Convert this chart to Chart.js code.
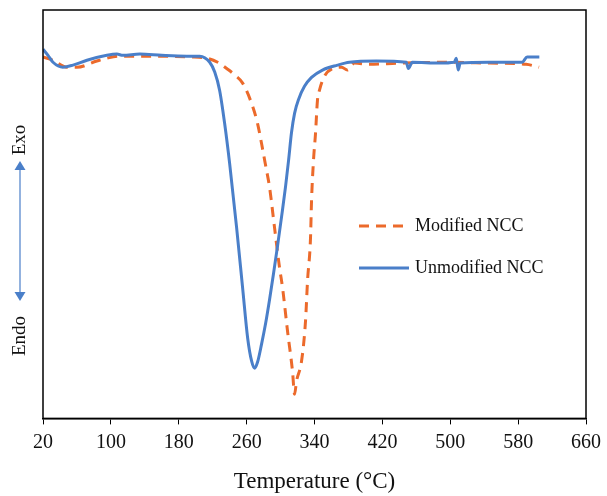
<!DOCTYPE html>
<html>
<head>
<meta charset="utf-8">
<script src="https://cdn.jsdelivr.net/npm/chart.js@4/dist/chart.umd.min.js"></script>
<style>
  html, body { margin: 0; padding: 0; background: #fff; }
  #wrap { width: 607px; height: 496px; }
</style>
</head>
<body>
<div id="wrap"><canvas id="dsc"></canvas></div>
<script>
// DSC thermograms, heat flow in arbitrary units
const xTicks = [20, 100, 180, 260, 340, 420, 500, 580, 660];

const unmodTemp = [20, 25.9, 31.8, 43.5, 55.3, 71.8, 95.3, 107.1, 114.1, 134.1, 160, 189.4, 204.7,
  216.5, 222.4, 228.2, 234.1, 240.0, 248.2, 255.3, 261.2, 265.9, 269.4, 272.9, 277.6, 282.4,
  287.1, 291.8, 296.5, 301.2, 305.9, 309.4, 312.9, 316.5, 321.2, 328.2, 336.5, 349.4, 367.1,
  381.2, 412.9, 448.2, 450.6, 455.3, 487.1, 504.7, 507.1, 509.4, 511.8, 545.9, 584.7, 590.6, 605];
const unmodHeat = [90.4, 88.9, 87.2, 86.0, 86.5, 87.7, 88.9, 89.2, 88.9, 89.2, 88.9, 88.7, 88.7,
  87.2, 84.8, 80.3, 72.2, 62.4, 46.7, 31.9, 19.7, 14.0, 12.3, 13.8, 18.2, 23.3,
  29.2, 35.6, 42.3, 49.4, 56.8, 63.1, 70.0, 74.7, 78.1, 81.3, 83.5, 85.3, 86.5,
  87.2, 87.5, 87.2, 85.7, 87.2, 87.0, 87.2, 88.2, 85.3, 87.0, 87.2, 87.2, 88.5, 88.5];

const modTemp = [20, 31.8, 48.2, 60, 83.5, 95.3, 110.6, 145.9, 192.9, 212.9, 225.9, 237.6,
  246.5, 255.3, 265.9, 272.9, 277.6, 282.4, 287.1, 292.9, 298.8, 302.4, 308.2, 314.1, 316.5,
  318.8, 324.7, 329.4, 331.8, 335.3, 336.5, 338.8, 341.2, 343.5, 345.9, 351.8, 363.5,
  372, 378.8, 387.1, 404.7, 440, 498.8, 545.9, 589.4, 604.7];
const modHeat = [88.5, 87.7, 86.0, 86.0, 87.5, 88.2, 88.7, 88.7, 88.5, 88.2, 87.2, 85.5,
  84.0, 82.1, 77.1, 72.2, 67.3, 61.9, 56.5, 46.7, 36.9, 31.9, 21.4, 11.5, 5.9,
  9.1, 14.0, 23.8, 33.7, 44.2, 53.3, 63.1, 69.8, 77.9, 80.4, 83.8, 85.8,
  86.0, 85.3, 87.0, 86.7, 87.0, 87.2, 87.0, 86.7, 86.0];

const seriesNames = ['Modified NCC', 'Unmodified NCC'];
const blue = '#4a7fc9';
const orange = '#ec6a2b';
const serif = '"Liberation Serif", "Times New Roman", serif';

const pts = (xs, ys) => xs.map((x, i) => ({ x: x, y: ys[i] }));

// frame, Exo/Endo arrow and the in-plot legend
const extras = {
  id: 'extras',
  afterDraw(chart) {
    const ctx = chart.ctx;
    const a = chart.chartArea;
    ctx.save();
    ctx.strokeStyle = '#000';
    ctx.lineWidth = 1.5;
    ctx.strokeRect(a.left, a.top, a.right - a.left, a.bottom - a.top);

    // Exo / Endo
    ctx.fillStyle = '#111';
    ctx.font = '19px ' + serif;
    ctx.textAlign = 'center';
    ctx.textBaseline = 'middle';
    [['Exo', 140], ['Endo', 336]].forEach(([t, y]) => {
      ctx.save();
      ctx.translate(20, y);
      ctx.rotate(-Math.PI / 2);
      ctx.fillText(t, 0, 0);
      ctx.restore();
    });
    ctx.strokeStyle = blue;
    ctx.fillStyle = blue;
    ctx.lineWidth = 1.2;
    ctx.beginPath();
    ctx.moveTo(20, 170);
    ctx.lineTo(20, 292);
    ctx.stroke();
    ctx.beginPath();
    ctx.moveTo(20, 161); ctx.lineTo(14.5, 170); ctx.lineTo(25.5, 170); ctx.closePath();
    ctx.fill();
    ctx.beginPath();
    ctx.moveTo(20, 301); ctx.lineTo(14.5, 292); ctx.lineTo(25.5, 292); ctx.closePath();
    ctx.fill();

    // legend
    ctx.font = '18px ' + serif;
    ctx.textAlign = 'left';
    ctx.fillStyle = '#111';
    chart.data.datasets.forEach((ds, i) => {
      const y = 226 + i * 42;
      ctx.strokeStyle = ds.borderColor;
      ctx.lineWidth = 3;
      ctx.setLineDash(ds.borderDash || []);
      ctx.beginPath();
      ctx.moveTo(359, y);
      ctx.lineTo(409, y);
      ctx.stroke();
      ctx.setLineDash([]);
      ctx.fillText(ds.label, 415, y);
    });
    ctx.restore();
  }
};

new Chart(document.getElementById('dsc'), {
  type: 'line',
  data: {
    datasets: [
      {
        label: seriesNames[0],
        data: pts(modTemp, modHeat),
        borderColor: orange,
        borderWidth: 3,
        borderDash: [10, 7],
        pointRadius: 0,
        cubicInterpolationMode: 'monotone',
        order: 1
      },
      {
        label: seriesNames[1],
        data: pts(unmodTemp, unmodHeat),
        borderColor: blue,
        borderWidth: 3,
        pointRadius: 0,
        cubicInterpolationMode: 'monotone',
        order: 0
      }
    ]
  },
  options: {
    responsive: true,
    maintainAspectRatio: false,
    animation: false,
    layout: { padding: { left: 43, right: 20, top: 10, bottom: 0 } },
    plugins: {
      legend: { display: false },
      tooltip: { enabled: false }
    },
    scales: {
      x: {
        type: 'linear',
        min: 20,
        max: 660,
        afterBuildTicks: (axis) => { axis.ticks = xTicks.map(v => ({ value: v })); },
        grid: { drawOnChartArea: false, color: '#000', tickLength: 6, lineWidth: 1 },
        border: { color: '#000', width: 1.5 },
        ticks: { color: '#111', font: { family: serif, size: 20 }, padding: 6, maxRotation: 0 },
        title: {
          display: true,
          text: 'Temperature (°C)',
          color: '#111',
          font: { family: serif, size: 23 },
          padding: { top: 8, bottom: 0 }
        }
      },
      y: {
        display: false,
        min: 0,
        max: 100
      }
    }
  },
  plugins: [extras]
});
</script>
</body>
</html>
